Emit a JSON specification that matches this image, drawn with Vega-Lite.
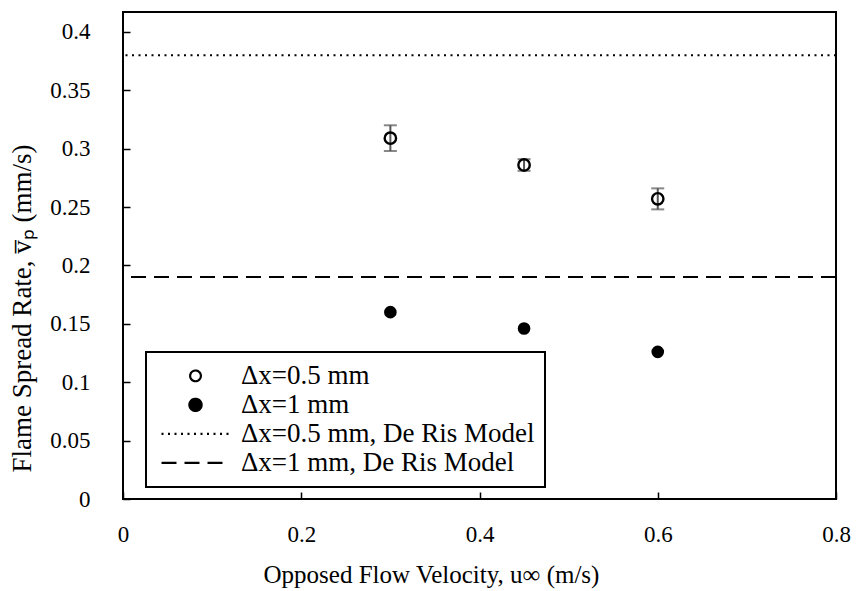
{
  "$schema": "https://vega.github.io/schema/vega-lite/v6.json",
  "autosize": {"type": "none"},
  "padding": {"left": 123, "top": 12, "right": 21, "bottom": 92},
  "width": 713,
  "height": 487,
  "background": "white",
  "config": {
    "view": {"stroke": "black", "strokeWidth": 2},
    "font": "Liberation Serif",
    "style": {
      "guide-label": {"font": "Liberation Serif", "fill": "black"},
      "guide-title": {"font": "Liberation Serif", "fill": "black"}
    },
    "axis": {
      "grid": false,
      "domain": false,
      "labelFlush": false,
      "tickColor": "black",
      "tickWidth": 1.5,
      "tickSize": -7,
      "labelFont": "Liberation Serif",
      "labelFontSize": 23,
      "labelColor": "black",
      "titleFont": "Liberation Serif",
      "titleFontSize": 25,
      "titleFontWeight": "normal",
      "titleColor": "black"
    },
    "legend": {
      "labelFont": "Liberation Serif",
      "labelFontSize": 27,
      "labelColor": "black",
      "labelLimit": 600
    }
  },
  "datasets": {
    "open": [
      {"series": "Δx=0.5 mm", "u": 0.3, "v": 0.309, "lo": 0.298, "hi": 0.320},
      {"series": "Δx=0.5 mm", "u": 0.45, "v": 0.286, "lo": 0.281, "hi": 0.291},
      {"series": "Δx=0.5 mm", "u": 0.6, "v": 0.257, "lo": 0.248, "hi": 0.266}
    ],
    "filled": [
      {"series": "Δx=1 mm", "u": 0.3, "v": 0.160},
      {"series": "Δx=1 mm", "u": 0.45, "v": 0.146},
      {"series": "Δx=1 mm", "u": 0.6, "v": 0.126}
    ],
    "model05": [
      {"series": "Δx=0.5 mm, De Ris Model", "v": 0.38}
    ],
    "model1": [
      {"series": "Δx=1 mm, De Ris Model", "v": 0.19}
    ]
  },
  "encoding": {
    "x": {
      "type": "quantitative",
      "scale": {"domain": [0, 0.8], "nice": false, "zero": false},
      "axis": {
        "title": "Opposed Flow Velocity, u∞ (m/s)",
        "values": [0, 0.2, 0.4, 0.6, 0.8],
        "format": ".1~f",
        "labelFlush": false,
        "labelFont": "Liberation Serif",
        "titleFont": "Liberation Serif",
        "labelPadding": 31,
        "titlePadding": 16,
        "titleX": 308
      }
    },
    "y": {
      "type": "quantitative",
      "scale": {"domain": [0, 0.417], "nice": false, "zero": false},
      "axis": {
        "title": "Flame Spread Rate, v̅ₚ (mm/s)",
        "values": [0, 0.05, 0.1, 0.15, 0.2, 0.25, 0.3, 0.35, 0.4],
        "format": ".2~f",
        "labelFlush": false,
        "labelFont": "Liberation Serif",
        "titleFont": "Liberation Serif",
        "titleFontSize": 27,
        "labelPadding": 40,
        "titlePadding": 13,
        "titleY": 296
      }
    }
  },
  "layer": [
    {
      "data": {"name": "model05"},
      "mark": {"type": "rule", "strokeWidth": 2, "strokeDash": [2, 4.5]},
      "encoding": {
        "y": {"field": "v"},
        "color": {
          "field": "series",
          "type": "nominal",
          "scale": {
            "domain": ["Δx=0.5 mm", "Δx=1 mm", "Δx=0.5 mm, De Ris Model", "Δx=1 mm, De Ris Model"],
            "range": ["black", "black", "black", "black"]
          },
          "legend": {
            "title": null,
            "orient": "none",
            "legendX": 23,
            "legendY": 340,
            "direction": "vertical",
            "strokeColor": "black",
            "fillColor": "white",
            "padding": 10,
            "symbolOffset": 4,
            "labelOffset": 10,
            "labelFont": "Liberation Serif",
            "clipHeight": 27.75,
            "rowPadding": 0,
            "symbolSize": 4624,
            "symbolStrokeWidth": 2,
            "encode": {
              "legend": {
                "update": {
                  "strokeWidth": {"value": 2}
                }
              },
              "labels": {
                "update": {
                  "font": {"value": "Liberation Serif"}
                }
              },
              "symbols": {
                "update": {
                  "shape": {"signal": "(datum.value === 'Δx=0.5 mm' || datum.value === 'Δx=1 mm') ? 'circle' : 'stroke'"},
                  "size": {"signal": "datum.value === 'Δx=0.5 mm' ? 115 : datum.value === 'Δx=1 mm' ? 150 : 4624"},
                  "fill": {"signal": "datum.value === 'Δx=1 mm' ? 'black' : 'white'"},
                  "fillOpacity": {"signal": "datum.value === 'Δx=1 mm' ? 1 : 0"},
                  "stroke": {"value": "black"},
                  "strokeWidth": {"value": 2.2},
                  "strokeDash": {"signal": "datum.value === 'Δx=0.5 mm, De Ris Model' ? [2, 4.5] : datum.value === 'Δx=1 mm, De Ris Model' ? [15, 8] : [1, 0]"},
                  "opacity": {"value": 1}
                }
              }
            }
          }
        }
      }
    },
    {
      "data": {"name": "model1"},
      "mark": {"type": "rule", "strokeWidth": 2, "strokeDash": [15, 8]},
      "encoding": {
        "y": {"field": "v"},
        "color": {"field": "series", "type": "nominal"}
      }
    },
    {
      "data": {"name": "open"},
      "mark": {"type": "rule", "color": "#555555", "strokeWidth": 2},
      "encoding": {
        "x": {"field": "u"},
        "y": {"field": "lo"},
        "y2": {"field": "hi"}
      }
    },
    {
      "data": {"name": "open"},
      "mark": {"type": "tick", "orient": "horizontal", "color": "#555555", "size": 13, "thickness": 2},
      "encoding": {
        "x": {"field": "u"},
        "y": {"field": "lo"}
      }
    },
    {
      "data": {"name": "open"},
      "mark": {"type": "tick", "orient": "horizontal", "color": "#555555", "size": 13, "thickness": 2},
      "encoding": {
        "x": {"field": "u"},
        "y": {"field": "hi"}
      }
    },
    {
      "data": {"name": "open"},
      "mark": {"type": "point", "shape": "circle", "filled": false, "size": 130, "strokeWidth": 2.4, "opacity": 1},
      "encoding": {
        "x": {"field": "u"},
        "y": {"field": "v"},
        "color": {"field": "series", "type": "nominal"}
      }
    },
    {
      "data": {"name": "filled"},
      "mark": {"type": "circle", "size": 160, "opacity": 1},
      "encoding": {
        "x": {"field": "u"},
        "y": {"field": "v"},
        "color": {"field": "series", "type": "nominal"}
      }
    }
  ]
}
